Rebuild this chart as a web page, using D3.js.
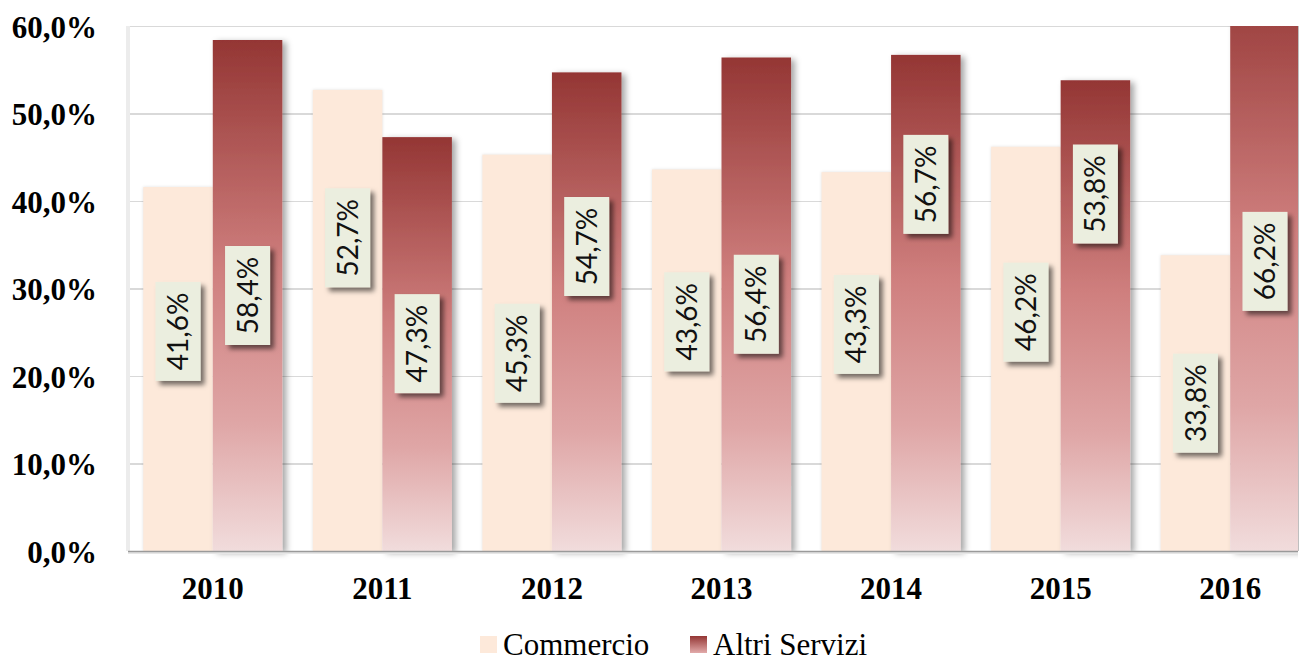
<!DOCTYPE html>
<meta charset="utf-8">
<html>
<head>
<style>
body {
  margin: 0;
  background: #fff;
}
.grid line {
  stroke: #d9d9d9;
  stroke-width: 1.5px;
  shape-rendering: crispEdges;
}
.grid path {
  stroke-width: 0;
}
.tick-label {
  font-family: "Liberation Serif", "Times New Roman", Times, serif;
  font-weight: bold;
  font-size: 31px;
  fill: #000;
}
.legend text {
  font-family: "Liberation Serif", "Times New Roman", Times, serif;
  font-size: 31px;
  fill: #000;
}
.val {
  font-family: Lato, "Open Sans", sans-serif;
  font-size: 28px;
  fill: #111;
}
</style>
</head>
<body>
<div id="chart"></div>

<script src="https://d3js.org/d3.v7.min.js"></script>
<script>

// data
var years = ["2010", "2011", "2012", "2013", "2014", "2015", "2016"];
var commercio = [41.6, 52.7, 45.3, 43.6, 43.3, 46.2, 33.8];
var altriServizi = [58.4, 47.3, 54.7, 56.4, 56.7, 53.8, 66.2];
// where the value boxes sit (in % units, as placed in the original)
var commercioLabelAt = [25.1, 35.8, 22.6, 26.2, 25.9, 27.3, 16.9];
var altriLabelAt = [29.2, 23.7, 34.8, 28.2, 41.9, 40.8, 33.1];
var yTicks = [0, 10, 20, 30, 40, 50, 60];
var seriesNames = ["Commercio", "Altri Servizi"];

var W = 1299, H = 662;
var plot = {left: 128, right: 1298, top: 26, bottom: 551};

var fmt = function(v) { return d3.format(".1f")(v).replace(".", ",") + "%"; };

var svg = d3.select("#chart")
  .append("svg")
    .attr("width", W)
    .attr("height", H);

var defs = svg.append("defs");

// red gradient of the "Altri Servizi" bars
var grad = defs.append("linearGradient")
    .attr("id", "redGrad")
    .attr("x1", 0).attr("y1", 0).attr("x2", 0).attr("y2", 1);
grad.append("stop").attr("offset", "0%").attr("stop-color", "#943634");
grad.append("stop").attr("offset", "45%").attr("stop-color", "#cf7f7e");
grad.append("stop").attr("offset", "75%").attr("stop-color", "#dfa6a6");
grad.append("stop").attr("offset", "100%").attr("stop-color", "#f1dcdc");

var legGrad = defs.append("linearGradient")
    .attr("id", "legGrad")
    .attr("x1", 0).attr("y1", 0).attr("x2", 0).attr("y2", 1);
legGrad.append("stop").attr("offset", "0%").attr("stop-color", "#943634");
legGrad.append("stop").attr("offset", "100%").attr("stop-color", "#e2aaaa");

var shadow = defs.append("filter")
    .attr("id", "barShadow")
    .attr("x", "-20%").attr("y", "-10%")
    .attr("width", "150%").attr("height", "130%");
shadow.append("feDropShadow")
    .attr("dx", 4).attr("dy", 2)
    .attr("stdDeviation", 3)
    .attr("flood-color", "#000")
    .attr("flood-opacity", 0.35);

var boxShadow = defs.append("filter")
    .attr("id", "boxShadow")
    .attr("x", "-30%").attr("y", "-20%")
    .attr("width", "170%").attr("height", "150%");
boxShadow.append("feDropShadow")
    .attr("dx", 4).attr("dy", 4)
    .attr("stdDeviation", 2.5)
    .attr("flood-color", "#000")
    .attr("flood-opacity", 0.55);

defs.append("clipPath")
    .attr("id", "plotClip")
  .append("rect")
    .attr("x", plot.left)
    .attr("y", plot.top)
    .attr("width", plot.right - plot.left)
    .attr("height", plot.bottom - plot.top + 10);

// scales
var x0 = d3.scaleBand()
    .domain(years)
    .range([plot.left, 1315])
    .paddingInner(0.18)
    .paddingOuter(0.09);

var x1 = d3.scaleBand()
    .domain(seriesNames)
    .range([0, x0.bandwidth()]);

var y = d3.scaleLinear()
    .domain([0, 60])
    .range([plot.bottom, plot.top]);

// left wall of the plot area
svg.append("rect")
    .attr("x", plot.left - 2)
    .attr("y", plot.top)
    .attr("width", 4)
    .attr("height", plot.bottom - plot.top)
    .attr("fill", "#ececec");

// gridlines
svg.append("g")
    .attr("class", "grid")
    .attr("transform", "translate(" + (plot.left + 2) + ",0)")
    .call(d3.axisLeft(y)
        .tickValues(yTicks)
        .tickSize(-(plot.right - plot.left - 2))
        .tickFormat(""));

// right border
svg.append("line")
    .attr("x1", plot.right + 0.5).attr("x2", plot.right + 0.5)
    .attr("y1", plot.top).attr("y2", plot.bottom)
    .attr("stroke", "#bfbfbf");

var rows = years.map(function(yr, i) {
  return {year: yr, c: commercio[i], a: altriServizi[i], cl: commercioLabelAt[i], al: altriLabelAt[i]};
});

var bars = svg.append("g").attr("clip-path", "url(#plotClip)");

bars.selectAll(".comm")
  .data(rows)
  .enter()
  .append("rect")
    .attr("class", "comm")
    .attr("x", function(d) { return x0(d.year) + x1("Commercio"); })
    .attr("y", function(d) { return y(d.c); })
    .attr("width", x1.bandwidth())
    .attr("height", function(d) { return y(0) - y(d.c); })
    .attr("fill", "#fde9da")
    .style("filter", "drop-shadow(0px 0px 1.5px rgba(0,0,0,0.12))");

bars.selectAll(".altri")
  .data(rows)
  .enter()
  .append("rect")
    .attr("class", "altri")
    .attr("x", function(d) { return x0(d.year) + x1("Altri Servizi"); })
    .attr("y", function(d) { return y(d.a); })
    .attr("width", x1.bandwidth())
    .attr("height", function(d) { return y(0) - y(d.a); })
    .attr("fill", "url(#redGrad)")
    .attr("filter", "url(#barShadow)");

// x axis line
svg.append("line")
    .attr("x1", plot.left).attr("x2", plot.right)
    .attr("y1", plot.bottom + 2).attr("y2", plot.bottom + 2)
    .attr("stroke", "#e6e6e6")
    .attr("stroke-width", 2);
svg.append("line")
    .attr("x1", plot.left).attr("x2", plot.right)
    .attr("y1", plot.bottom + 0.5).attr("y2", plot.bottom + 0.5)
    .attr("stroke", "#9a9a9a")
    .attr("stroke-width", 1.5);

// y tick labels
var yAxis = svg.append("g")
    .attr("transform", "translate(97,0)")
    .call(d3.axisLeft(y)
        .tickValues(yTicks)
        .tickSize(0)
        .tickPadding(0)
        .tickFormat(fmt));
yAxis.select(".domain").remove();
yAxis.selectAll("text")
    .attr("class", "tick-label")
    .attr("dy", "0.36em")
    .attr("font-family", null)
    .attr("font-size", null);

// x tick labels
var xAxis = svg.append("g")
    .attr("transform", "translate(0," + plot.bottom + ")")
    .call(d3.axisBottom(x0).tickSize(0).tickPadding(0));
xAxis.select(".domain").remove();
xAxis.selectAll("text")
    .attr("class", "tick-label")
    .attr("y", 48)
    .attr("dy", 0)
    .attr("font-family", null)
    .attr("font-size", null);

// value boxes
function addLabels(key, posKey, series) {
  var g = svg.selectAll(".lab-" + key)
    .data(rows)
    .enter()
    .append("g")
      .attr("class", "lab-" + key)
      .attr("transform", function(d) {
        return "translate(" + (x0(d.year) + x1(series) + x1.bandwidth() / 2) + "," + y(d[posKey]) + ")";
      });
  g.append("rect")
      .attr("x", -22.5)
      .attr("y", -49.5)
      .attr("width", 45)
      .attr("height", 99)
      .attr("fill", "#ebeedf")
      .attr("filter", "url(#boxShadow)");
  g.append("text")
      .attr("class", "val")
      .attr("transform", "rotate(-90)")
      .attr("text-anchor", "middle")
      .attr("dy", "0.36em")
      .text(function(d) { return fmt(d[key]); });
}
addLabels("c", "cl", "Commercio");
addLabels("a", "al", "Altri Servizi");

// legend
var legend = svg.append("g").attr("class", "legend");
var legX = [480, 690];
var legFill = ["#fde9da", "url(#legGrad)"];
seriesNames.forEach(function(name, i) {
  legend.append("rect")
      .attr("x", legX[i])
      .attr("y", 636)
      .attr("width", 17)
      .attr("height", 17)
      .attr("fill", legFill[i]);
  legend.append("text")
      .attr("x", legX[i] + 23)
      .attr("y", 655)
      .text(name);
});

</script>
</body>
</html>
